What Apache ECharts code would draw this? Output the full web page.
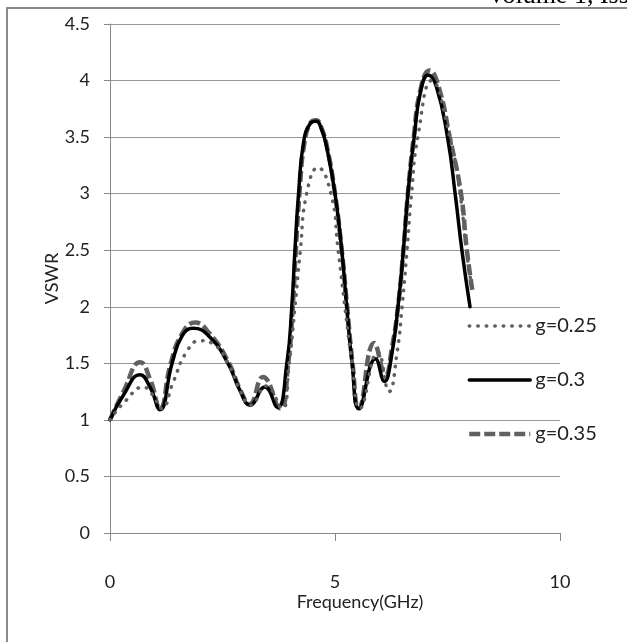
<!DOCTYPE html>
<html>
<head>
<meta charset="utf-8">
<script src="https://cdn.jsdelivr.net/npm/echarts@6/dist/echarts.min.js"></script>
<style>
html,body{margin:0;padding:0;background:#fff;}
#c{width:627px;height:642px;}
</style>
</head>
<body>
<div id="c"></div>
<script>
// Data (frequency GHz, VSWR)
var seriesNames = ['g=0.25', 'g=0.3', 'g=0.35'];
var yTicks = [0, 0.5, 1, 1.5, 2, 2.5, 3, 3.5, 4, 4.5];
var xTicks = [0, 5, 10];

var g025 = [[0,1.0],[0.35,1.17],[0.74,1.29],[0.95,1.22],[1.15,1.1],[1.4,1.33],[1.7,1.6],[2.0,1.70],[2.3,1.67],[2.62,1.5],[2.9,1.25],[3.12,1.13],[3.47,1.3],[3.82,1.1],[3.98,1.5],[4.11,2.0],[4.23,2.5],[4.37,3.0],[4.62,3.23],[4.91,3.0],[5.07,2.5],[5.22,2.0],[5.38,1.5],[5.55,1.1],[5.95,1.6],[6.2,1.25],[6.38,1.6],[6.49,2.0],[6.6,2.5],[6.7,3.0],[6.84,3.5],[7.15,4.0],[7.55,3.5],[7.78,3.0],[7.92,2.5],[8.05,2.15]];

var g030 = [[0,1.0],[0.3,1.22],[0.67,1.40],[0.9,1.28],[1.11,1.09],[1.38,1.5],[1.6,1.74],[1.85,1.81],[2.2,1.74],[2.62,1.5],[2.9,1.25],[3.11,1.13],[3.44,1.29],[3.72,1.11],[3.93,1.5],[4.04,2.0],[4.11,2.5],[4.19,3.0],[4.3,3.45],[4.45,3.62],[4.58,3.64],[4.7,3.57],[4.82,3.4],[5.0,3.0],[5.15,2.5],[5.26,2.0],[5.38,1.5],[5.53,1.1],[5.9,1.54],[6.1,1.34],[6.25,1.55],[6.4,2.0],[6.52,2.5],[6.62,3.0],[6.76,3.5],[6.9,3.9],[7.07,4.05],[7.25,3.95],[7.5,3.5],[7.67,3.0],[7.82,2.5],[8.0,2.0]];

var g035 = [[0,1.0],[0.3,1.25],[0.67,1.51],[0.9,1.35],[1.11,1.1],[1.35,1.5],[1.6,1.76],[1.89,1.86],[2.2,1.77],[2.62,1.52],[2.9,1.26],[3.1,1.14],[3.4,1.38],[3.78,1.1],[3.96,1.5],[4.06,2.0],[4.13,2.5],[4.21,3.0],[4.32,3.45],[4.46,3.63],[4.58,3.65],[4.7,3.58],[4.83,3.4],[5.0,3.0],[5.15,2.5],[5.27,2.0],[5.39,1.5],[5.53,1.1],[5.87,1.68],[6.12,1.4],[6.27,1.65],[6.4,2.0],[6.52,2.5],[6.62,3.0],[6.75,3.5],[6.9,3.92],[7.1,4.09],[7.3,3.95],[7.55,3.5],[7.8,3.0],[7.93,2.5],[8.05,2.15]];

var FONT = 'Lato';
var DOT = {color: '#5f5f5f', width: 3.5, type: [0.5, 8], cap: 'round'};
var SOLID = {color: '#000', width: 3.5, type: 'solid', cap: 'round'};
var DASH = {color: '#606060', width: 4.5, type: [11, 4]};

var chart = echarts.init(document.getElementById('c'), null, {renderer: 'canvas'});
var option = {
  animation: false,
  backgroundColor: '#fff',
  textStyle: {fontFamily: FONT},
  grid: {left: 110, right: 67, top: 24, bottom: 109, containLabel: false},
  xAxis: {
    type: 'value', min: xTicks[0], max: xTicks[xTicks.length - 1], interval: 5,
    name: 'Frequency(GHz)', nameLocation: 'middle', nameGap: 60, nameMoveOverlap: false,
    nameTextStyle: {fontFamily: FONT, fontSize: 18, color: '#222', padding: [0, 0, 0, 50]},
    axisLine: {show: true, onZero: false, lineStyle: {color: '#888', width: 1}},
    axisTick: {show: true, inside: false, length: 8, lineStyle: {color: '#888'}},
    axisLabel: {fontFamily: FONT, fontSize: 18, color: '#222', margin: 40},
    splitLine: {show: false}
  },
  yAxis: {
    type: 'value', min: yTicks[0], max: yTicks[yTicks.length - 1], interval: 0.5,
    name: 'VSWR', nameLocation: 'middle', nameGap: 49, nameRotate: 90, nameMoveOverlap: false,
    nameTextStyle: {fontFamily: FONT, fontSize: 18, color: '#222'},
    axisLine: {show: true, onZero: false, lineStyle: {color: '#888', width: 1}},
    axisTick: {show: true, inside: false, length: 6, lineStyle: {color: '#888'}},
    axisLabel: {fontFamily: FONT, fontSize: 18, color: '#222', margin: 20},
    splitLine: {show: true, lineStyle: {color: '#999', width: 1}}
  },
  legend: {
    orient: 'vertical', left: 462, top: 311,
    itemWidth: 61, itemHeight: 14, itemGap: 34,
    data: [
      {name: seriesNames[0], lineStyle: DOT},
      {name: seriesNames[1], lineStyle: SOLID},
      {name: seriesNames[2], lineStyle: DASH}
    ],
    itemStyle: {opacity: 0},
    textStyle: {fontFamily: FONT, fontSize: 20, color: '#222'},
    selectedMode: false
  },
  series: [
    {name: seriesNames[0], type: 'line', data: g025, showSymbol: false, symbol: 'none',
     smooth: 0.5, z: 4, lineStyle: DOT, itemStyle: {color: DOT.color}},
    {name: seriesNames[1], type: 'line', data: g030, showSymbol: false, symbol: 'none',
     smooth: 0.5, z: 3, lineStyle: SOLID, itemStyle: {color: SOLID.color}},
    {name: seriesNames[2], type: 'line', data: g035, showSymbol: false, symbol: 'none',
     smooth: 0.5, z: 2, lineStyle: DASH, itemStyle: {color: DASH.color}}
  ],
  graphic: [
    {type: 'rect', silent: true, z: 0,
     shape: {x: 7, y: 8, width: 800, height: 800},
     style: {fill: null, stroke: '#8a8a8a', lineWidth: 2}},
    {type: 'text', silent: true, left: 487, top: -17,
     style: {text: 'Volume 1, Issue 1', font: '26px "Liberation Serif"', fill: '#000'}}
  ]
};
chart.setOption(option);
</script>
</body>
</html>
